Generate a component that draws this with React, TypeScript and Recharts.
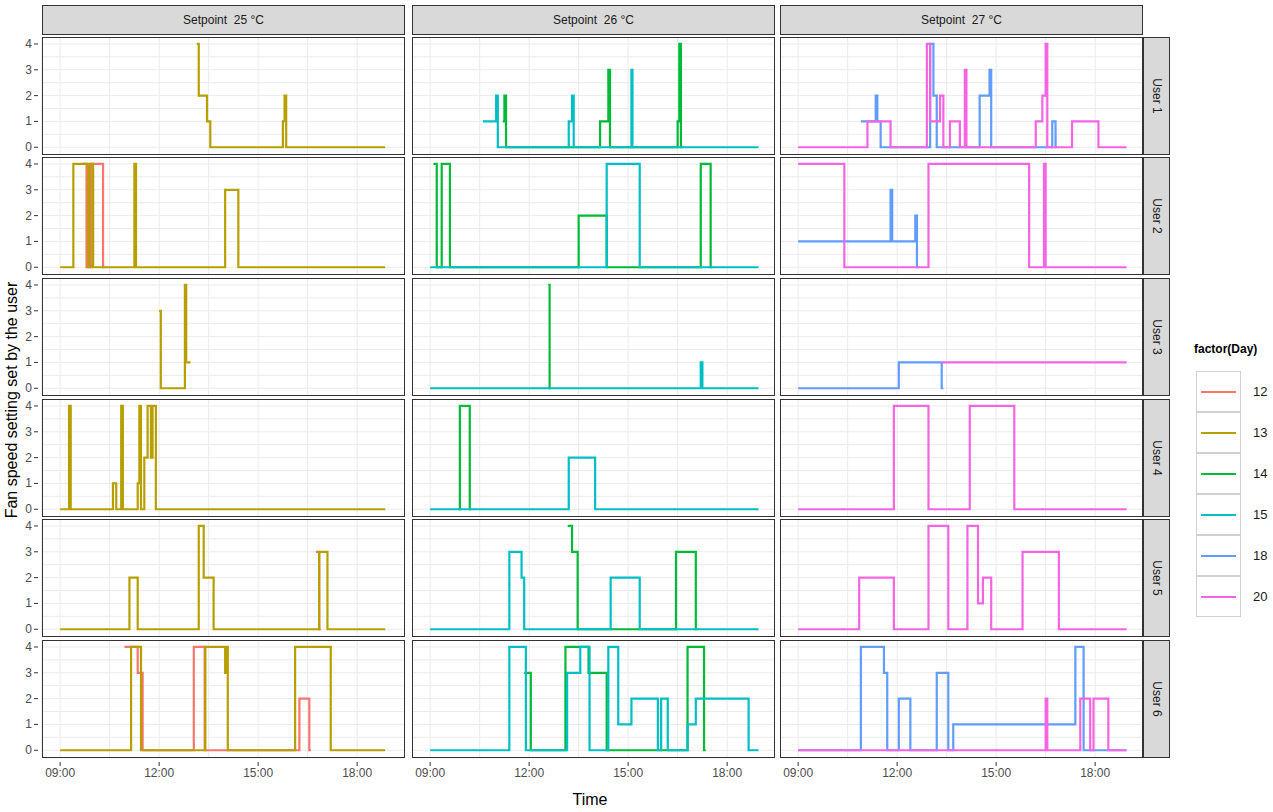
import React from 'react';
import { LineChart, Line, XAxis, YAxis, CartesianGrid } from 'recharts';

type P = [number, number];

const setpoints = ['Setpoint  25 °C', 'Setpoint  26 °C', 'Setpoint  27 °C'];
const users = ['User 1', 'User 2', 'User 3', 'User 4', 'User 5', 'User 6'];
const days = ['12', '13', '14', '15', '18', '20'];
const dayColors: Record<string, string> = {
  '12': '#F8766D', '13': '#B79F00', '14': '#00BA38', '15': '#00BFC4', '18': '#619CFF', '20': '#F564E3',
};
const xTicks = [9, 10.5, 12, 13.5, 15, 16.5, 18];
const xMajor = [9, 12, 15, 18];
const yTicks = [0, 0.5, 1, 1.5, 2, 2.5, 3, 3.5, 4];

// User 1
const u1s25d13: P[] = [[13.14, 4], [13.2, 2], [13.45, 1], [13.55, 0], [15.75, 1], [15.8, 2], [15.85, 0], [18.85, 0]];
const u1s26d15: P[] = [[10.6, 1], [11.0, 2], [11.05, 0], [13.2, 1], [13.3, 2], [13.35, 0], [15.1, 3], [15.13, 0], [18.95, 0]];
const u1s26d14: P[] = [[11.2, 1], [11.25, 2], [11.3, 0], [14.15, 1], [14.4, 3], [14.45, 0], [16.5, 1], [16.55, 4], [16.6, 0], [16.65, 0]];
const u1s27d20: P[] = [[9, 0], [11.1, 1], [11.8, 0], [12.9, 4], [13.0, 1], [13.3, 2], [13.4, 0], [13.6, 1], [13.9, 0], [14.05, 3], [14.1, 0], [16.2, 1], [16.4, 2], [16.5, 4], [16.55, 0], [17.3, 1], [18.1, 0], [18.95, 0]];
const u1s27d18: P[] = [[10.9, 1], [11.35, 2], [11.4, 1], [11.5, 0], [13.0, 4], [13.1, 2], [13.2, 0], [14.5, 2], [14.8, 3], [14.85, 0], [16.7, 1], [16.8, 0], [16.85, 0]];
// User 2
const u2s25d13: P[] = [[9, 0], [9.4, 4], [9.85, 0], [9.9, 4], [10.0, 0], [11.25, 4], [11.3, 0], [14.0, 3], [14.4, 0], [18.85, 0]];
const u2s25d12: P[] = [[9.7, 4], [9.8, 0], [9.95, 4], [10.3, 0], [10.35, 0]];
const u2s26d15: P[] = [[9, 0], [14.35, 4], [15.35, 0], [18.95, 0]];
const u2s26d14: P[] = [[9.1, 4], [9.2, 0], [9.35, 4], [9.6, 0], [13.5, 2], [14.35, 0], [17.2, 4], [17.5, 0], [17.55, 0]];
const u2s27d20: P[] = [[9, 4], [10.4, 0], [12.95, 4], [16.0, 0], [16.45, 4], [16.5, 0], [18.95, 0]];
const u2s27d18: P[] = [[9, 1], [11.8, 3], [11.85, 1], [12.55, 2], [12.6, 0], [12.65, 0]];
// User 3
const u3s25d13: P[] = [[12.0, 3], [12.05, 0], [12.78, 4], [12.82, 1], [12.95, 1]];
const u3s26d15: P[] = [[9, 0], [17.2, 1], [17.25, 0], [18.95, 0]];
const u3s26d14: P[] = [[12.58, 4], [12.62, 0], [12.65, 0]];
const u3s27d18: P[] = [[9, 0], [12.05, 1], [13.35, 0], [13.4, 0]];
const u3s27d20: P[] = [[13.35, 1], [18.95, 1]];
// User 4
const u4s25d13: P[] = [[9, 0], [9.27, 4], [9.32, 0], [10.6, 1], [10.7, 0], [10.85, 4], [10.9, 0], [11.35, 1], [11.4, 4], [11.45, 0], [11.55, 2], [11.65, 4], [11.75, 2], [11.8, 4], [11.9, 0], [18.85, 0]];
const u4s26d15: P[] = [[9, 0], [13.2, 2], [14.0, 0], [18.95, 0]];
const u4s26d14: P[] = [[9.85, 0], [9.9, 4], [10.2, 0], [10.25, 0]];
const u4s27d20: P[] = [[9, 0], [11.9, 4], [12.95, 0], [14.2, 4], [15.55, 0], [18.95, 0]];
// User 5
const u5s25d13: P[] = [[9, 0], [11.1, 2], [11.35, 0], [13.2, 4], [13.35, 2], [13.65, 0], [16.85, 3], [17.1, 0], [18.85, 0]];
const u5s25d12: P[] = [[16.75, 3], [16.85, 0], [16.9, 0]];
const u5s26d15: P[] = [[9, 0], [11.4, 3], [11.77, 2], [11.85, 0], [14.47, 2], [15.35, 0], [18.95, 0]];
const u5s26d14: P[] = [[13.17, 4], [13.3, 3], [13.47, 0], [16.45, 3], [17.05, 0], [17.1, 0]];
const u5s27d20: P[] = [[9, 0], [10.85, 2], [11.9, 0], [12.95, 4], [13.55, 0], [14.13, 4], [14.45, 1], [14.6, 2], [14.85, 0], [15.8, 3], [16.9, 0], [18.95, 0]];
// User 6
const u6s25d13: P[] = [[9, 0], [11.15, 4], [11.45, 0], [13.4, 4], [14.0, 3], [14.05, 4], [14.08, 0], [16.12, 4], [17.2, 0], [18.85, 0]];
const u6s25d12: P[] = [[10.95, 4], [11.35, 3], [11.5, 0], [13.05, 4], [13.38, 0], [16.25, 2], [16.55, 0], [16.6, 0]];
const u6s26d15: P[] = [[9, 0], [11.4, 4], [11.9, 0], [13.15, 3], [13.55, 4], [13.83, 0], [14.4, 4], [14.7, 1], [15.1, 2], [15.9, 0], [16.0, 2], [16.2, 0], [16.8, 1], [17.05, 2], [18.65, 0], [18.95, 0]];
const u6s26d14: P[] = [[11.85, 3], [12.05, 0], [13.1, 4], [13.8, 3], [14.35, 0], [16.8, 4], [17.3, 0], [17.35, 0]];
const u6s27d18: P[] = [[9, 0], [10.9, 4], [11.6, 3], [11.7, 0], [12.05, 2], [12.4, 0], [13.2, 3], [13.55, 0], [13.7, 1], [17.4, 4], [17.65, 0], [18.95, 0]];
const u6s27d20: P[] = [[9, 0], [16.5, 2], [16.55, 0], [17.55, 2], [17.85, 0], [17.95, 2], [18.4, 0], [18.95, 0]];

type S = { day: string; pts: P[] };
// series listed in day order, later days drawn on top
const grid: S[][][] = [
  [[{ day: '13', pts: u1s25d13 }], [{ day: '14', pts: u1s26d14 }, { day: '15', pts: u1s26d15 }], [{ day: '18', pts: u1s27d18 }, { day: '20', pts: u1s27d20 }]],
  [[{ day: '12', pts: u2s25d12 }, { day: '13', pts: u2s25d13 }], [{ day: '14', pts: u2s26d14 }, { day: '15', pts: u2s26d15 }], [{ day: '18', pts: u2s27d18 }, { day: '20', pts: u2s27d20 }]],
  [[{ day: '13', pts: u3s25d13 }], [{ day: '14', pts: u3s26d14 }, { day: '15', pts: u3s26d15 }], [{ day: '18', pts: u3s27d18 }, { day: '20', pts: u3s27d20 }]],
  [[{ day: '13', pts: u4s25d13 }], [{ day: '14', pts: u4s26d14 }, { day: '15', pts: u4s26d15 }], [{ day: '20', pts: u4s27d20 }]],
  [[{ day: '12', pts: u5s25d12 }, { day: '13', pts: u5s25d13 }], [{ day: '14', pts: u5s26d14 }, { day: '15', pts: u5s26d15 }], [{ day: '20', pts: u5s27d20 }]],
  [[{ day: '12', pts: u6s25d12 }, { day: '13', pts: u6s25d13 }], [{ day: '14', pts: u6s26d14 }, { day: '15', pts: u6s26d15 }], [{ day: '18', pts: u6s27d18 }, { day: '20', pts: u6s27d20 }]],
];

const FONT = 'Liberation Sans, Arial, sans-serif';
const colLeft = [42, 412, 780];
const rowTop = [37, 157, 278, 399, 519, 640];
const PW = 363;
const PH = 118;
const YW = 30;
const XH = 24;

const fmtTime = (h: number) => `${String(h).padStart(2, '0')}:00`;

function XTick(props: any) {
  const { x, y, payload } = props;
  if (!xMajor.includes(payload.value)) return null;
  return (
    <g>
      <line x1={x} x2={x} y1={y - 4} y2={y} stroke="#333" />
      <text x={x} y={y + 11} textAnchor="middle" fontSize={12} fill="#4d4d4d" fontFamily={FONT}>{fmtTime(payload.value)}</text>
    </g>
  );
}
function YTick(props: any) {
  const { x, y, payload } = props;
  if (!Number.isInteger(payload.value)) return null;
  return (
    <g>
      <line x1={x} x2={x + 4} y1={y} y2={y} stroke="#333" />
      <text x={x - 2} y={y + 4} textAnchor="end" fontSize={12} fill="#4d4d4d" fontFamily={FONT}>{payload.value}</text>
    </g>
  );
}

function Panel({ r, c }: { r: number; c: number }) {
  const showY = c === 0;
  const showX = r === 5;
  const w = PW + (showY ? YW : 0);
  const h = PH + (showX ? XH : 0);
  return (
    <div style={{ position: 'absolute', left: colLeft[c] - (showY ? YW : 0), top: rowTop[r] }}>
      <LineChart width={w} height={h} margin={{ top: 0, right: 0, bottom: 0, left: 0 }}>
        <CartesianGrid stroke="#ebebeb" strokeWidth={1} fill="#fff" />
        <XAxis type="number" dataKey="t" domain={[8.45, 19.45]} ticks={xTicks} hide={!showX} interval={0}
          height={XH} tick={<XTick />} tickLine={false} axisLine={false} allowDataOverflow />
        <YAxis type="number" domain={[-0.3, 4.27]} ticks={yTicks} hide={!showY} interval={0}
          width={YW} tick={<YTick />} tickLine={false} axisLine={false} allowDataOverflow />
        {grid[r][c].map((s, i) => (
          <Line key={i} data={s.pts.map(([t, v]) => ({ t, v }))} dataKey="v" type="stepAfter"
            stroke={dayColors[s.day]} strokeWidth={2.2} dot={false} isAnimationActive={false} />
        ))}
      </LineChart>
      <div style={{ position: 'absolute', left: showY ? YW : 0, top: 0, width: PW, height: PH,
        border: '1px solid #333', boxSizing: 'border-box', pointerEvents: 'none' }} />
    </div>
  );
}

export default function App() {
  return (
    <div style={{ position: 'fixed', left: 0, top: 0, width: 1273, height: 812, background: '#fff', fontFamily: FONT }}>
      {setpoints.map((s, c) => (
        <div key={s} style={{ position: 'absolute', left: colLeft[c], top: 5, width: PW, height: 30,
          background: '#d9d9d9', border: '1px solid #333', boxSizing: 'border-box', display: 'flex',
          alignItems: 'center', justifyContent: 'center', fontSize: 12, color: '#1a1a1a', whiteSpace: 'pre' }}>{s}</div>
      ))}
      {users.map((u, r) => (
        <div key={u} style={{ position: 'absolute', left: 1143, top: rowTop[r], width: 27, height: PH,
          background: '#d9d9d9', border: '1px solid #333', boxSizing: 'border-box', display: 'flex',
          alignItems: 'center', justifyContent: 'center' }}>
          <div style={{ transform: 'rotate(90deg)', fontSize: 12, color: '#1a1a1a', whiteSpace: 'nowrap' }}>{u}</div>
        </div>
      ))}
      {users.map((u, r) => [0, 1, 2].map(c => <Panel key={`${r}-${c}`} r={r} c={c} />))}
      <div style={{ position: 'absolute', left: 12, top: 400, transform: 'translate(-50%,-50%) rotate(-90deg)',
        fontSize: 16, color: '#000', whiteSpace: 'nowrap' }}>Fan speed setting set by the user</div>
      <div style={{ position: 'absolute', left: 590, top: 800, transform: 'translate(-50%,-50%)', fontSize: 16 }}>Time</div>
      <div style={{ position: 'absolute', left: 1194, top: 342, fontSize: 12, fontWeight: 'bold' }}>factor(Day)</div>
      {days.map((d, i) => (
        <div key={d} style={{ position: 'absolute', left: 1196, top: 371 + i * 41, width: 45, height: 41,
          border: '1px solid #d0d0d0', boxSizing: 'border-box', background: '#fff' }}>
          <div style={{ position: 'absolute', left: 4, right: 4, top: 19, height: 2, background: dayColors[d] }} />
          <div style={{ position: 'absolute', left: 56, top: 12, fontSize: 13, color: '#1a1a1a' }}>{d}</div>
        </div>
      ))}
    </div>
  );
}
